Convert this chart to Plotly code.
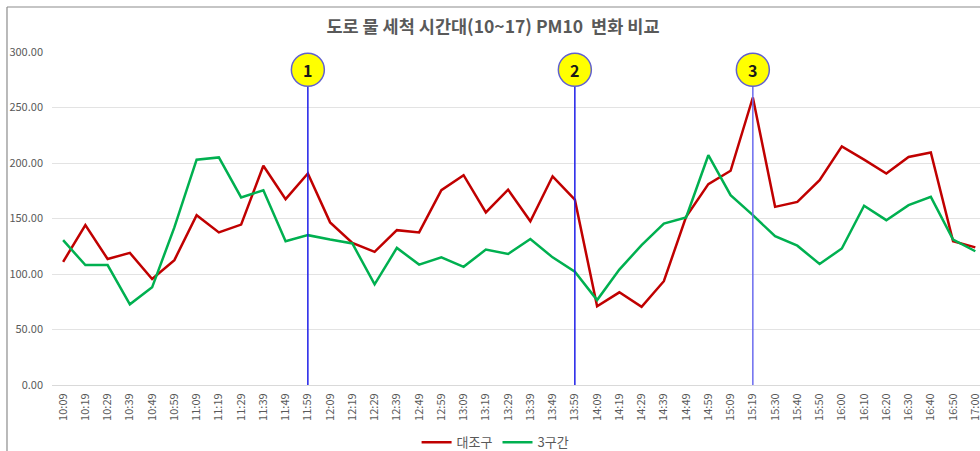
import plotly.graph_objects as go

# 측정 시각 (10분 간격)
times = ["10:09", "10:19", "10:29", "10:39", "10:49", "10:59", "11:09", "11:19",
         "11:29", "11:39", "11:49", "11:59", "12:09", "12:19", "12:29", "12:39",
         "12:49", "12:59", "13:09", "13:19", "13:29", "13:39", "13:49", "13:59",
         "14:09", "14:19", "14:29", "14:39", "14:49", "14:59", "15:09", "15:19",
         "15:30", "15:40", "15:50", "16:00", "16:10", "16:20", "16:30", "16:40",
         "16:50", "17:00"]

# 대조구 PM10
control = [111, 144, 113.5, 119, 95.5, 112.5, 153, 137.5, 144.5, 197.5, 167.5, 190.5,
           146.5, 128, 120, 139.5, 137.5, 175.5, 189, 155.5, 176, 147.5, 188, 167,
           71, 83.5, 70.5, 93.5, 151.5, 181, 193, 259, 160.5, 165, 184.5, 215,
           203, 190.5, 205.5, 209.5, 129.5, 124]

# 3구간 PM10
zone3 = [130.5, 108, 108, 72.7, 88, 142, 203, 205, 169, 175.5, 129.5, 135,
         131, 127.5, 90.7, 123.5, 108.5, 115, 106.5, 122, 118, 131.5, 115, 102,
         76.5, 104, 126, 145.5, 151, 207, 171, 153, 134, 125.5, 109, 123,
         161.5, 148.5, 162, 169.5, 131, 120.5]

# 물 세척 시점 표시
wash_times = ["11:59", "13:59", "15:19"]
wash_labels = ["1", "2", "3"]
wash_colors = ["#1f1fe8", "#1f1fe8", "#6b6bef"]

y_ticks = [0, 50, 100, 150, 200, 250, 300]

FONT = "Noto Sans CJK KR, Noto Sans, sans-serif"
GRAY = "#595959"

fig = go.Figure()
fig.add_trace(go.Scatter(x=times, y=control, name="대조구", mode="lines",
                         line=dict(color="#c00000", width=2.5)))
fig.add_trace(go.Scatter(x=times, y=zone3, name="3구간", mode="lines",
                         line=dict(color="#00b050", width=2.5)))

BADGE_Y = 284   # badge centre (data units)
BADGE_R = 16.5  # badge radius (px)

shapes = []
annotations = []
for t, lab, col in zip(wash_times, wash_labels, wash_colors):
    idx = times.index(t)
    shapes.append(dict(type="line", xref="x", yref="y", x0=idx, x1=idx, y0=0, y1=269,
                       line=dict(color=col, width=1.5), layer="above"))
    shapes.append(dict(type="circle", xref="x", yref="y", xsizemode="pixel",
                       ysizemode="pixel", xanchor=idx, yanchor=BADGE_Y,
                       x0=-BADGE_R, x1=BADGE_R, y0=-BADGE_R, y1=BADGE_R,
                       fillcolor="#ffff00", line=dict(color="#6060d0", width=1.5),
                       layer="above"))
    annotations.append(dict(x=idx, y=BADGE_Y, xref="x", yref="y", text=lab,
                            showarrow=False,
                            font=dict(size=16, color="#1a1a1a", family=FONT, weight="bold")))

# chart-area frame (top and left edges)
shapes.append(dict(type="line", xref="paper", yref="paper", x0=-0.0485, x1=1.02,
                   y0=1.1351, y1=1.1351, line=dict(color="#8c8c8c", width=1.2)))
shapes.append(dict(type="line", xref="paper", yref="paper", x0=-0.0485, x1=-0.0485,
                   y0=1.1351, y1=-0.25, line=dict(color="#8c8c8c", width=1.2)))

fig.update_layout(
    width=980, height=451,
    margin=dict(l=52, r=0, t=52, b=66, autoexpand=False),
    paper_bgcolor="white", plot_bgcolor="white",
    font=dict(family=FONT, color=GRAY),
    title=dict(text="도로 물 세척 시간대(10~17) PM10\u00a0 변화 비교",
               x=0.503, xanchor="center", y=0.941, yanchor="middle",
               font=dict(size=17.5, color=GRAY, family=FONT, weight="bold")),
    showlegend=True,
    legend=dict(orientation="h", x=0.478, xanchor="center", y=-0.172, yanchor="middle",
                font=dict(size=13, color=GRAY, family=FONT), bgcolor="rgba(0,0,0,0)"),
    shapes=shapes,
    annotations=annotations,
)
fig.update_xaxes(type="category", range=[-0.5, 41.21], tickangle=-90,
                 tickfont=dict(size=11, color=GRAY, family=FONT),
                 showgrid=False, showline=True, linecolor="#d9d9d9", linewidth=1,
                 ticks="", ticklabelstandoff=3, zeroline=False)
fig.update_yaxes(range=[0, 300], tickvals=y_ticks, tickformat=".2f",
                 tickfont=dict(size=11, color=GRAY, family=FONT),
                 showgrid=True, gridcolor="#e3e3e3", gridwidth=1,
                 showline=False, zeroline=False, ticks="", ticklabelstandoff=8)

fig.write_html("out.html")
